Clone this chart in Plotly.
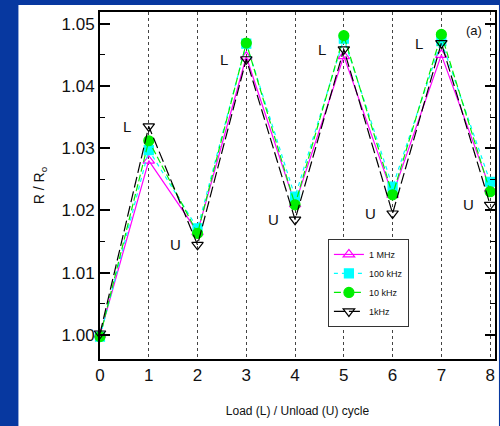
import plotly.graph_objects as go

cycles = [0, 1, 2, 3, 4, 5, 6, 7, 8]
r_1mhz = [1.0000, 1.0280, 1.0165, 1.0447, 1.0210, 1.0448, 1.0225, 1.0450, 1.0235]
r_100khz = [0.9997, 1.0297, 1.0171, 1.0468, 1.0222, 1.0476, 1.0238, 1.0472, 1.0246]
r_10khz = [0.9997, 1.0312, 1.0163, 1.0469, 1.0209, 1.0481, 1.0225, 1.0483, 1.0230]
r_1khz = [1.0002, 1.0335, 1.01445, 1.0443, 1.0185, 1.0459, 1.0195, 1.0469, 1.0209]

label_cycles = [1, 2, 3, 4, 5, 6, 7, 8]
label_text = ["L", "U", "L", "U", "L", "U", "L", "U"]

y_ticks = [1.00, 1.01, 1.02, 1.03, 1.04, 1.05]

FONT = "Liberation Sans, Arial, sans-serif"

fig = go.Figure()

series = [
    ("1 MHz", r_1mhz, "#ff00ff", "solid", "triangle-up-open", 10, 1.2),
    ("100 kHz", r_100khz, "#00ffff", "4px,4px", "square", 9, 1.2),
    ("10 kHz", r_10khz, "#00ee00", "7px,3px", "circle", 10, 1.2),
    ("1kHz", r_1khz, "#000000", "11px,4px", "triangle-down-open", 10, 1.2),
]
for name, vals, col, dash, sym, size, lw in series:
    fig.add_trace(go.Scatter(
        x=cycles, y=vals, name=name, mode="lines+markers",
        line=dict(color=col, width=lw, dash=dash),
        marker=dict(symbol=sym, size=size, color=col,
                    line=dict(color=col, width=1.2)),
        cliponaxis=False,
    ))

lookup = dict(zip(cycles, r_1khz))
for c, t in zip(label_cycles, label_text):
    fig.add_annotation(x=c, y=lookup[c], text=t, showarrow=False,
                       xshift=-22, font=dict(family=FONT, size=15, color="#111"))

fig.add_annotation(x=0.972, y=0.975, xref="paper", yref="paper", text="(a)",
                   showarrow=False, xanchor="right", yanchor="top",
                   font=dict(family=FONT, size=13, color="#111"))

# white inset panel over blue background
fig.add_shape(type="rect", xref="paper", yref="paper",
              x0=-0.2065, x1=1.01, y0=-0.2, y1=1.0202,
              fillcolor="white", line=dict(width=0), layer="below")

fig.update_layout(
    width=500, height=426,
    margin=dict(l=100, r=3, t=12, b=67),
    paper_bgcolor="#0738a0",
    plot_bgcolor="white",
    font=dict(family=FONT, color="#111"),
    showlegend=True,
    legend=dict(
        x=0.577, y=0.346, xanchor="left", yanchor="top",
        bgcolor="white", bordercolor="#333", borderwidth=1,
        font=dict(family=FONT, size=9, color="#111"),
        tracegroupgap=0, itemwidth=30,
    ),
)

fig.update_xaxes(
    range=[0, 8.1], tickmode="array", tickvals=cycles,
    ticks="", showline=True, linecolor="black", linewidth=2, mirror=True,
    showgrid=True, gridcolor="#444", griddash="dot", gridwidth=1,
    zeroline=False,
    tickfont=dict(family=FONT, size=17, color="#111"),
    title=dict(text="Load (L) / Unload (U) cycle", standoff=22,
               font=dict(family=FONT, size=12, color="#111")),
)
fig.update_yaxes(
    range=[0.9961, 1.0519], tickmode="array", tickvals=y_ticks,
    tickformat=".2f",
    ticks="inside", ticklen=10, tickwidth=1.5, tickcolor="black",
    minor=dict(dtick=0.005, ticks="inside", ticklen=5, tickwidth=1.2, tickcolor="black", showgrid=False),
    showline=True, linecolor="black", linewidth=2, mirror="allticks",
    showgrid=False, zeroline=False,
    tickfont=dict(family=FONT, size=17, color="#111"),
    title=dict(text="R / R<sub>o</sub>", standoff=14,
               font=dict(family=FONT, size=14, color="#111")),
)

fig.write_html("out.html")
